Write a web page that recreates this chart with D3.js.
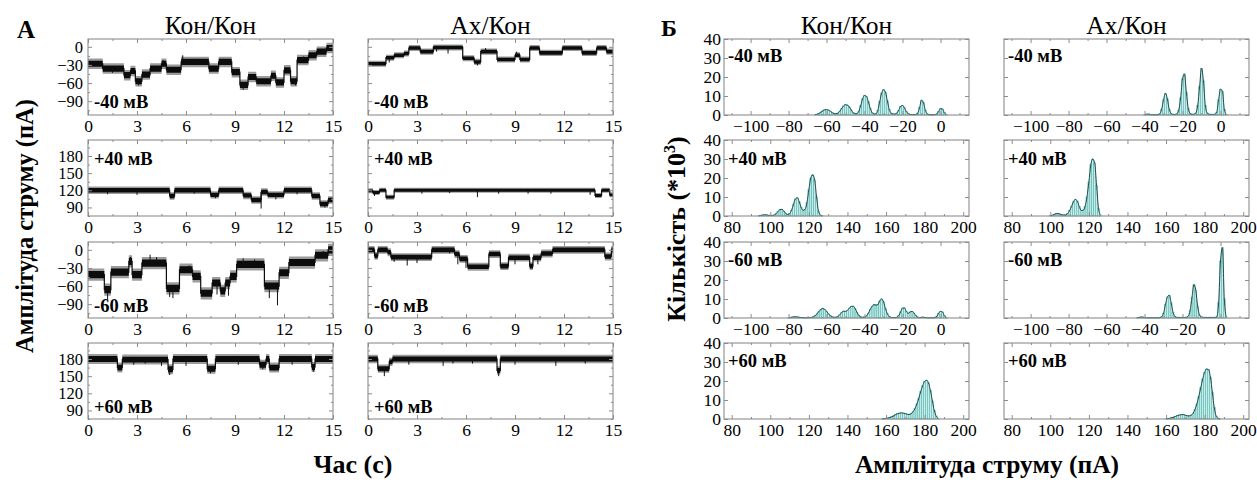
<!DOCTYPE html>
<html>
<head>
<meta charset="utf-8">
<script src="https://cdn.jsdelivr.net/npm/d3@7"></script>
<style>
  body { margin: 0; background: #fff; }
</style>
</head>
<body>
<svg id="chart" width="1257" height="480"></svg>
<script>
// ---------------- data ----------------
const columnTitles = ["Кон/Кон", "Ах/Кон"];
const voltageLabels = ["-40 мВ", "+40 мВ", "-60 мВ", "+60 мВ"];

const timeTicks = [0, 3, 6, 9, 12, 15];
const negCurrentTicks = [0, -30, -60, -90];
const posCurrentTicks = [90, 120, 150, 180];
const countTicks = [0, 10, 20, 30, 40];
const negAmplitudeTicks = [-100, -80, -60, -40, -20, 0];
const posAmplitudeTicks = [80, 100, 120, 140, 160, 180, 200];

// Single-channel current records: [start time (s), current level (pA)];
// each level lasts until the next start (record ends at 15 s).
const kkMinus40 = [[0,-28],[0.9,-36],[2.2,-47],[2.6,-40],[2.9,-57],[3.3,-46],[3.8,-36],[4.5,-28],[4.8,-38],[5.7,-25],[7.4,-36],[8.0,-25],[8.8,-42],[9.3,-63],[9.8,-50],[10.3,-57],[11.2,-48],[11.5,-59],[12.0,-39],[12.4,-57],[12.8,-22],[13.5,-14],[14.0,-8],[14.6,-2]];
const kkPlus40 = [[0,120],[5.0,110],[5.3,120],[7.5,112],[8.0,120],[9.5,111],[10.0,103],[10.6,117],[11.0,112],[12.0,120],[13.7,110],[14.2,96],[14.7,103]];
const kkMinus60 = [[0,-41],[1.0,-66],[1.4,-37],[2.5,-19],[2.7,-41],[3.3,-22],[4.8,-64],[5.6,-33],[6.4,-44],[6.9,-72],[7.6,-55],[8.1,-68],[8.4,-55],[8.7,-44],[9.1,-24],[10.8,-60],[11.7,-38],[12.3,-21],[13.9,-9],[14.7,0]];
const kkPlus60 = [[0,180],[1.8,165],[2.1,179],[4.9,162],[5.2,180],[7.3,163],[7.8,180],[10.5,170],[10.9,180],[11.1,165],[11.7,180],[13.7,166],[13.9,180]];
const akMinus40 = [[0,-28],[1.1,-18],[1.6,-14],[2.2,-11],[2.5,-2],[3.2,-8],[4.0,-1],[5.8,-19],[6.5,-25],[6.9,-8],[7.9,-21],[9.0,-14],[9.3,-21],[9.9,-2],[10.5,-10],[11.9,-2],[13.1,-10],[14.0,-2],[14.6,-8]];
const akPlus40 = [[0,119],[0.3,116],[0.7,120],[1.1,108],[1.6,120],[13.9,111],[14.3,120],[14.8,112]];
const akMinus60 = [[0,0],[0.4,-10],[0.6,0],[1.2,-4],[1.4,-12],[3.9,0],[5.3,-7],[5.6,-15],[6.1,-28],[7.4,-7],[8.1,-27],[8.6,-13],[9.9,-27],[10.1,-13],[10.6,-6],[11.3,0],[14.5,-11],[14.9,0]];
const akPlus60 = [[0,180],[0.6,163],[1.3,175],[1.5,180],[7.9,160],[8.1,180]];

// Brief openings/closings on top of the dwell levels: [time (s), peak current (pA)]
const kkMinus40Spikes = [[3.1,-64],[5.8,-14],[9.5,-71],[12.7,-64],[4.6,-22],[8.3,-20],[10.8,-62],[11.8,-63],[13.2,-16],[1.5,-43],[6.6,-20]];
const kkPlus40Spikes = [[10.6,88],[5.1,106],[3.0,112],[11.5,104],[14.5,90],[1.2,113],[7.8,106],[6.5,114],[12.8,113]];
const kkMinus60Spikes = [[1.2,-82],[2.6,-12],[3.8,-8],[5.2,-80],[7.9,-74],[11.6,-92],[11.1,-80],[4.2,-12],[9.5,-14],[10.2,-16],[14.4,-2],[6.2,-26],[8.6,-76],[5.0,-78]];
const kkPlus60Spikes = [[4.5,168],[5.0,152],[6.0,168],[7.5,155],[9.2,170],[10.7,162],[11.4,160],[13.8,158],[2.8,170],[12.5,170],[3.5,172]];
const akMinus40Spikes = [[6.7,-31],[4.9,-11],[4.2,-8],[9.1,-8],[1.3,-26],[7.2,-2]];
const akPlus40Spikes = [[6.7,108],[0.4,110],[3.3,114],[8.0,114],[11.2,114],[13.6,112],[5.0,115],[9.8,114]];
const akMinus60Spikes = [[2.4,-26],[3.0,-22],[5.5,-24],[6.0,-30],[9.0,-24],[10.4,-24],[1.6,-20],[5.0,-6]];
const akPlus60Spikes = [[1.0,150],[8.0,150],[2.5,170],[4.6,168],[5.2,172],[9.0,170],[11.5,168],[13.3,172],[6.4,172]];

// Open-channel noise half-width of each record (pA), Кон/Кон then Ах/Кон per row
const kkNoise = [6, 4.5, 7, 6];
const akNoise = [3.5, 3, 4.5, 5];

// Amplitude histograms: first bin centre (pA), 1 pA bins, counts in thousands
const kkMinus40HistStart = -66;
const kkMinus40Hist = [0.2,0.4,0.8,1.5,2.2,2.7,2.8,2.6,2.0,1.2, 0.7,0.6,1.0,2.0,3.5,4.8,5.4,5.2,4.2,2.6, 1.2,0.6,0.7,2.0,5.0,8.5,10.3,9.8,7.0,3.5, 1.2,0.5,0.6,2.5,7.0,11.5,13.3,12.0,7.5,3.0, 1.0,0.5,0.5,1.0,2.5,4.5,5.0,3.8,1.8,0.7, 0.3,0.2,0.2,0.3,1.0,4.0,7.8,6.5,2.5,0.6, 0.2,0.1,0.1,0.2,0.5,1.8,3.3,3.2,1.2,0.2];
const akMinus40HistStart = -40;
const akMinus40Hist = [0.1,0.4,0.5,0.3,0.1,0.1,0.1,0.2,0.6,3.0,8.0,11.4,8.5,3.0,0.8,0.3,0.3,0.6,2.5,9.0,19.0,21.6,12.0,3.5,0.8,0.4,0.4,1.0,5.0,15.0,24.6,18.0,5.0,1.0,0.4,0.3,0.3,0.4,1.5,8.0,13.6,12.5,3.0,0.3];
const kkPlus40HistStart = 94;
const kkPlus40Hist = [0.1,0.3,0.5,0.6,0.6,0.4,0.3,0.3,0.5,1.2,2.4,3.4,3.5,2.6,1.4,0.8,1.2,3.0,6.0,9.0,9.6,7.5,4.5,3.0,3.5,7.0,14.0,20.0,21.7,19.0,10.0,2.5,0.5,0.1];
const akPlus40HistStart = 100;
const akPlus40Hist = [0.2,0.4,0.8,1.2,1.3,1.0,0.6,0.5,0.6,1.2,2.8,5.0,7.5,8.7,7.8,5.0,3.0,3.0,5.0,10.0,18.0,27.0,30.0,28.0,16.0,4.0,0.5];
const kkMinus60HistStart = -80;
const kkMinus60Hist = [0.1,0.3,0.5,0.6,0.6,0.5,0.3,0.2,0.1,0.1, 0.1,0.2,0.3,0.6,1.2,2.2,3.5,4.5,5.0,4.6, 3.5,2.2,1.2,0.6,0.4,0.4,0.8,1.8,3.0,3.6, 3.5,4.0,5.2,6.1,6.2,5.0,3.0,1.3,0.6,0.4, 0.5,1.0,2.5,4.5,6.2,7.0,6.8,7.0,9.0,10.0, 8.5,5.0,2.2,0.8,0.3,0.2,0.2,0.4,1.2,3.2, 5.2,5.3,3.5,2.5,3.2,3.5,2.6,1.2,0.5,0.2, 0.3,0.4,0.3,0.1,0.1,0.1,0.1,0.2,0.8,2.5, 3.5,3.2,1.2,0.2];
const akMinus60HistStart = -44;
const akMinus60Hist = [0.1,0.3,0.5,0.5,0.3,0.1, 0.1,0.1,0.1,0.1,0.1,0.1, 0.2,0.6,2.5,7.0,11.0,12.0,8.0,3.0,0.8,0.3, 0.3,0.3,0.3,0.3,0.4,1.0,4.0,11.0,17.6,14.5, 6.0,1.5,0.5,0.3,0.3,0.3,0.3,0.3,0.3,0.3, 0.6,8.0,30.0,37.0,10.0,0.5];
const kkPlus60HistStart = 158;
const kkPlus60Hist = [0.1,0.2,0.3,0.5,0.8,1.2,1.7,2.3,2.8,3.1,3.2,3.1,2.8,2.5,2.4,2.8,3.8,5.5,8.0,11.0,14.5,17.5,19.8,20.4,19.0,15.0,9.5,4.5,1.5,0.3];
const akPlus60HistStart = 160;
const akPlus60Hist = [0.1,0.2,0.4,0.7,1.0,1.4,1.8,2.1,2.3,2.3,2.0,1.7,1.6,2.0,3.0,5.0,8.0,12.0,16.5,21.0,24.5,26.3,26.0,22.0,14.0,6.0,1.5,0.4,0.1];

// ---------------- tables built from the arrays above ----------------
const traces = [
  [{lv: kkMinus40, sp: kkMinus40Spikes, nz: kkNoise[0]}, {lv: akMinus40, sp: akMinus40Spikes, nz: akNoise[0]}],
  [{lv: kkPlus40,  sp: kkPlus40Spikes,  nz: kkNoise[1]}, {lv: akPlus40,  sp: akPlus40Spikes,  nz: akNoise[1]}],
  [{lv: kkMinus60, sp: kkMinus60Spikes, nz: kkNoise[2]}, {lv: akMinus60, sp: akMinus60Spikes, nz: akNoise[2]}],
  [{lv: kkPlus60,  sp: kkPlus60Spikes,  nz: kkNoise[3]}, {lv: akPlus60,  sp: akPlus60Spikes,  nz: akNoise[3]}]
];
const hists = [
  [{s: kkMinus40HistStart, c: kkMinus40Hist}, {s: akMinus40HistStart, c: akMinus40Hist}],
  [{s: kkPlus40HistStart,  c: kkPlus40Hist},  {s: akPlus40HistStart,  c: akPlus40Hist}],
  [{s: kkMinus60HistStart, c: kkMinus60Hist}, {s: akMinus60HistStart, c: akMinus60Hist}],
  [{s: kkPlus60HistStart,  c: kkPlus60Hist},  {s: akPlus60HistStart,  c: akPlus60Hist}]
];

// ---------------- layout ----------------
const FONT = "'Liberation Serif'";
const svg = d3.select("#chart");
const W = 245, H = 76;
const rowTop = [39, 140, 242, 343];
const colA = [88, 368];
const colB = [724, 1004];
const frameColor = "#8c8c8c";
const negRows = [true, false, true, false];

function stepRange(a, b, step) { return d3.range(a, b + step / 2, step); }

function drawFrame(g, x, y, xMaj, xMin, yMaj, yMin, opts) {
  const mk = (axis, size) => axis.tickSizeInner(size).tickSizeOuter(0);
  // minor ticks on all four edges
  g.append("g").attr("transform", `translate(0,${H})`)
    .call(mk(d3.axisBottom(x), -2).tickValues(xMin).tickFormat(""));
  g.append("g").call(mk(d3.axisTop(x), -2).tickValues(xMin).tickFormat(""));
  if (yMin) {
    g.append("g").call(mk(d3.axisLeft(y), -2).tickValues(yMin).tickFormat(""));
    g.append("g").attr("transform", `translate(${W},0)`)
      .call(mk(d3.axisRight(y), -2).tickValues(yMin).tickFormat(""));
  }
  // major ticks, labelled on the bottom and (first column) left edges
  g.append("g").attr("class", "x-major").attr("transform", `translate(0,${H})`)
    .call(mk(d3.axisBottom(x), -4).tickValues(xMaj).tickPadding(5).tickFormat(d3.format("d")));
  g.append("g").call(mk(d3.axisTop(x), -4).tickValues(xMaj).tickFormat(""));
  g.append("g").attr("class", "y-major")
    .call(mk(d3.axisLeft(y), -4).tickValues(yMaj).tickPadding(opts.yPad)
      .tickFormat(opts.yLabels ? d3.format("d") : ""));
  g.append("g").attr("transform", `translate(${W},0)`)
    .call(mk(d3.axisRight(y), -4).tickValues(yMaj).tickFormat(""));
  g.selectAll(".domain").remove();
  g.selectAll(".tick line").attr("stroke", frameColor).attr("stroke-width", 1);
  g.selectAll(".x-major .tick text").attr("font-size", 17.5).attr("fill", "#000");
  g.selectAll(".y-major .tick text").attr("font-size", opts.ySize).attr("fill", "#000");
  g.append("rect").attr("width", W).attr("height", H)
    .attr("fill", "none").attr("stroke", frameColor).attr("stroke-width", 1.1);
}

// ---------------- panel A: current records ----------------
traces.forEach((row, r) => {
  row.forEach((tr, c) => {
    const g = svg.append("g").attr("transform", `translate(${colA[c]},${rowTop[r]})`);
    const x = d3.scaleLinear().domain([0, 15]).range([0, W]);
    const y = negRows[r]
      ? d3.scaleLinear().domain([-113, 13]).range([H, 0])
      : d3.scaleLinear().domain([75, 208]).range([H, 0]);
    const clipId = `clipA${r}${c}`;
    g.append("clipPath").attr("id", clipId).append("rect").attr("width", W).attr("height", H);
    const body = g.append("g").attr("clip-path", `url(#${clipId})`);

    const pts = tr.lv.concat([[15, tr.lv[tr.lv.length - 1][1]]]);
    // faint outer noise fringe, dense core band, and the level-to-level transitions
    const band = k => d3.area()
      .x(d => x(d[0]))
      .y0(d => y(d[1] - tr.nz * k))
      .y1(d => y(d[1] + tr.nz * k))
      .curve(d3.curveStepAfter);
    body.append("path").attr("d", band(1.45)(pts)).attr("fill", "#3a3a3a").attr("opacity", 0.5);
    body.append("path").attr("d", band(0.85)(pts)).attr("fill", "#0c0c0c");
    body.append("path")
      .attr("d", d3.line().x(d => x(d[0])).y(d => y(d[1])).curve(d3.curveStepAfter)(pts))
      .attr("fill", "none").attr("stroke", "#0c0c0c").attr("stroke-width", 1.2);

    const levelAt = t => {
      let v = tr.lv[0][1];
      for (const [t0, l] of tr.lv) if (t0 <= t) v = l;
      return v;
    };
    body.selectAll("line.spike").data(tr.sp).join("line")
      .attr("class", "spike")
      .attr("x1", d => x(d[0])).attr("x2", d => x(d[0]))
      .attr("y1", d => y(levelAt(d[0])))
      .attr("y2", d => y(d[1]))
      .attr("stroke", "#111").attr("stroke-width", 1);

    drawFrame(g, x, y, timeTicks, stepRange(1.5, 13.5, 3),
      negRows[r] ? negCurrentTicks : posCurrentTicks,
      negRows[r] ? stepRange(-105, 0, 15).filter(v => v % 30 !== 0) : stepRange(75, 195, 15).filter(v => v % 30 !== 0),
      { yLabels: c === 0, yPad: 5, ySize: 16.5 });

    const bottomLabel = r !== 1;
    g.append("text")
      .attr("x", 6)
      .attr("y", bottomLabel ? H - (r === 0 ? 7 : 6) : 25)
      .attr("font-size", 18.5).attr("font-weight", "bold")
      .text(voltageLabels[r]);
  });
});

// ---------------- panel Б: amplitude histograms ----------------
hists.forEach((row, r) => {
  row.forEach((h, c) => {
    const g = svg.append("g").attr("transform", `translate(${colB[c]},${rowTop[r]})`);
    const x = negRows[r]
      ? d3.scaleLinear().domain([-114, 15]).range([0, W])
      : d3.scaleLinear().domain([76, 203]).range([0, W]);
    const y = d3.scaleLinear().domain([0, 40]).range([H, 0]);
    const bins = h.c.map((v, i) => ({ v: h.s + i, c: v }));

    g.selectAll("rect.bin").data(bins).join("rect")
      .attr("class", "bin")
      .attr("x", d => x(d.v - 0.5))
      .attr("width", d => x(d.v + 0.5) - x(d.v - 0.5))
      .attr("y", d => y(d.c))
      .attr("height", d => y(0) - y(d.c))
      .attr("fill", "#c8ece9")
      .attr("stroke", "#49aea9")
      .attr("stroke-width", 0.5);

    const fit = d3.line().x(d => x(d.v)).y(d => y(d.c)).curve(d3.curveMonotoneX);
    g.append("path").attr("d", fit(bins))
      .attr("fill", "none").attr("stroke", "#1d4d4b").attr("stroke-width", 1);

    const xMaj = negRows[r] ? negAmplitudeTicks : posAmplitudeTicks;
    const xMin = negRows[r] ? stepRange(-110, 10, 20) : stepRange(90, 190, 20);
    drawFrame(g, x, y, xMaj, xMin, countTicks, null, { yLabels: c === 0, yPad: 3, ySize: 17.5 });

    g.append("text")
      .attr("x", 4).attr("y", r === 0 ? 23 : (r === 1 ? 25 : 24))
      .attr("font-size", 18.5).attr("font-weight", "bold")
      .text(voltageLabels[r]);
  });
});

// ---------------- titles and axis captions ----------------
columnTitles.forEach((t, c) => {
  svg.append("text").attr("x", colA[c] + W / 2).attr("y", 34)
    .attr("text-anchor", "middle").attr("font-size", 25.5).text(t);
  svg.append("text").attr("x", colB[c] + W / 2).attr("y", 34)
    .attr("text-anchor", "middle").attr("font-size", 25.5).text(t);
});

svg.append("text").attr("x", 17).attr("y", 38)
  .attr("font-size", 25).attr("font-weight", "bold").text("А");
svg.append("text").attr("x", 661).attr("y", 36)
  .attr("font-size", 24).attr("font-weight", "bold").text("Б");

svg.append("text")
  .attr("transform", "translate(33,226) rotate(-90)")
  .attr("text-anchor", "middle").attr("font-size", 24.5).attr("font-weight", "bold")
  .text("Амплітуда струму (пА)");

svg.append("text").attr("x", 353).attr("y", 473)
  .attr("text-anchor", "middle").attr("font-size", 26).attr("font-weight", "bold")
  .text("Час (с)");

const kLabel = svg.append("text")
  .attr("transform", "translate(685,229) rotate(-90)")
  .attr("text-anchor", "middle").attr("font-size", 26).attr("font-weight", "bold");
kLabel.append("tspan").text("Кількість (*10");
kLabel.append("tspan").attr("dy", -10).attr("font-size", 16).text("3");
kLabel.append("tspan").attr("dy", 10).text(")");

svg.append("text").attr("x", 987).attr("y", 473)
  .attr("text-anchor", "middle").attr("font-size", 25.5).attr("font-weight", "bold")
  .text("Амплітуда струму (пА)");

// serif face on every label
svg.selectAll("text").style("font-family", FONT).style("fill", "#000");
</script>
</body>
</html>
